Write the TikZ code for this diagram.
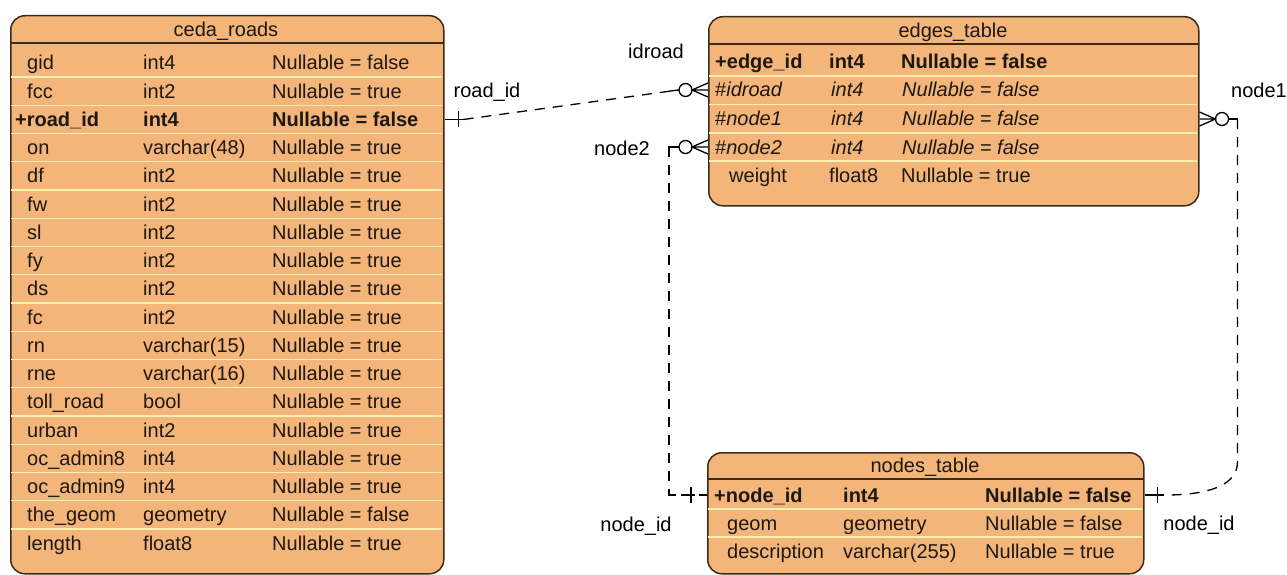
\documentclass[tikz,border=0pt]{standalone}
\usepackage{fontspec}
\setmainfont{Liberation Sans}
\usetikzlibrary{calc}
\definecolor{entfill}{HTML}{F3B579}
\definecolor{entline}{HTML}{3C2A18}
\definecolor{rowline}{HTML}{FFEFB0}
\definecolor{ink}{HTML}{1E1812}
\newcommand\cellfont{\fontsize{20}{24}\selectfont}

\begin{document}
\begin{tikzpicture}[x=1pt,y=-1pt,
  entity/.style={draw=entline, fill=entfill, line width=1.5pt, rounded corners=14pt,
                 anchor=north west, inner sep=0pt},
  cell/.style={inner sep=0pt, text height=14pt, text depth=0pt, anchor=west,
               font=\cellfont, text=ink},
  pl/.style={cell},
  pk/.style={cell, font=\cellfont\bfseries},
  fkc/.style={cell, font=\cellfont\itshape},
  title/.style={cell, anchor=center},
  lbl/.style={cell, anchor=center, text=black},
  sep/.style={draw=rowline, line width=1.3pt},
  hdr/.style={draw=entline, line width=1.5pt},
  rel/.style={draw=black, line width=1.3pt},
  fk/.style={rel, dash pattern=on 10pt off 8pt},
  crowl/.pic={\draw[rel] (0,0) -- (-16,0) (0,-7) -- (-16,0) -- (0,7);
              \draw[rel] (-22.5,0) circle (6.5);},
  crowr/.pic={\draw[rel] (0,0) -- (16,0) (0,-7) -- (16,0) -- (0,7);
              \draw[rel] (22.5,0) circle (6.5);}
]
\useasboundingbox (0,0) rectangle (1287,575);

% ---------------- ceda_roads ----------------
\node[entity, minimum width=433pt, minimum height=558pt] (ceda) at (10,15) {};
\foreach \i in {1,...,17}
  \draw[sep] (11,{63+(\i-0.5)*28.235}) -- (442,{63+(\i-0.5)*28.235});
\draw[hdr] (10,43) -- (443,43);
\node[title] (cedaT) at (226,30) {ceda\_roads};
\foreach \s/\x/\n/\t/\c [count=\i] in {
  pl/27/gid/int4/false,
  pl/27/fcc/int2/true,
  pk/15/+road\_id/int4/false,
  pl/27/on/varchar(48)/true,
  pl/27/df/int2/true,
  pl/27/fw/int2/true,
  pl/27/sl/int2/true,
  pl/27/fy/int2/true,
  pl/27/ds/int2/true,
  pl/27/fc/int2/true,
  pl/27/rn/varchar(15)/true,
  pl/27/rne/varchar(16)/true,
  pl/27/toll\_road/bool/true,
  pl/27/urban/int2/true,
  pl/27/oc\_admin8/int4/true,
  pl/27/oc\_admin9/int4/true,
  pl/27/the\_geom/geometry/false,
  pl/27/length/float8/true}
{
  \pgfmathsetmacro\yy{63+(\i-1)*28.235}
  \node[\s] (c\i-n) at (\x,\yy) {\n};
  \node[\s] (c\i-t) at (143,\yy) {\t};
  \node[\s] (c\i-c) at (272,\yy) {Nullable = \c};
}

% ---------------- edges_table ----------------
\node[entity, minimum width=490pt, minimum height=189pt] (edges) at (708,16) {};
\foreach \y in {76,104.5,133,161}
  \draw[sep] (709,\y) -- (1197,\y);
\draw[hdr] (708,44) -- (1198,44);
\node[title] (edgesT) at (953,31) {edges\_table};
\node[pk]  (e1-n) at (715,62)  {+edge\_id};
\node[pk]  (e1-t) at (829,62)  {int4};
\node[pk]  (e1-c) at (901,62)  {Nullable = false};
\node[pl]  (e2-n) at (715,90)  {\#\textit{idroad}};
\node[fkc] (e2-t) at (831,90)  {int4};
\node[fkc] (e2-c) at (902,90)  {Nullable = false};
\node[pl]  (e3-n) at (715,119) {\#\textit{node1}};
\node[fkc] (e3-t) at (831,119) {int4};
\node[fkc] (e3-c) at (902,119) {Nullable = false};
\node[pl]  (e4-n) at (715,147) {\#\textit{node2}};
\node[fkc] (e4-t) at (831,147) {int4};
\node[fkc] (e4-c) at (902,147) {Nullable = false};
\node[pl]  (e5-n) at (729,175) {weight};
\node[pl]  (e5-t) at (829,175) {float8};
\node[pl]  (e5-c) at (901,175) {Nullable = true};

% ---------------- nodes_table ----------------
\node[entity, minimum width=436pt, minimum height=121pt] (nodes) at (707,452) {};
\foreach \y in {509,537}
  \draw[sep] (708,\y) -- (1142,\y);
\draw[hdr] (707,479) -- (1143,479);
\node[title] (nodesT) at (925,465) {nodes\_table};
\node[pk] (d1-n) at (714,495) {+node\_id};
\node[pk] (d1-t) at (843,495) {int4};
\node[pk] (d1-c) at (985,495) {Nullable = false};
\node[pl] (d2-n) at (727,523) {geom};
\node[pl] (d2-t) at (843,523) {geometry};
\node[pl] (d2-c) at (985,523) {Nullable = false};
\node[pl] (d3-n) at (727,551) {description};
\node[pl] (d3-t) at (843,551) {varchar(255)};
\node[pl] (d3-c) at (985,551) {Nullable = true};

% ---------------- relationships ----------------
% ceda_roads.road_id -> edges_table.idroad
\coordinate (rA) at (ceda.east |- c3-n);
\coordinate (rB) at (edges.west |- e2-n);
\draw[rel] (rA) -- ($(rA)+(19,0)$);
\draw[rel] ($(rA)+(14,-8)$) -- ($(rA)+(14,8)$);
\draw[fk] ($(rA)+(19,0)$) -- ($(rB)+(-29.5,0)$);
\draw[rel] ($(rB)+(-29.5,0)$) -- ($(rB)+(-39,1.2)$);
\pic at (rB) {crowl};
\node[lbl] (lRoad) at (487,91) {road\_id};
\node[lbl] (lIdroad) at (656,52) {idroad};

% nodes_table.node_id -> edges_table.node2
\coordinate (n2A) at (edges.west |- e4-n);
\coordinate (n2B) at (nodes.west |- d1-n);
\coordinate (n2C) at ($(n2A)+(-39,0)$);
\pic at (n2A) {crowl};
\draw[rel] ($(n2A)+(-29,0)$) -- (n2C) -- ++(0,6);
\draw[fk] (n2C) -- (n2C |- n2B) -- (n2B);
\draw[rel] ($(n2C |- n2B)+(0,-6)$) -- (n2C |- n2B) -- ++(7,0);
\draw[rel] ($(n2B)+(-16,-8)$) -- ($(n2B)+(-16,8)$);
\draw[rel] ($(n2B)+(-21,0)$) -- ($(n2B)+(-12,0)$);
\node[lbl] (lNode2) at (622,148) {node2};
\node[lbl] (lNodeIdL) at (636,524) {node\_id};

% nodes_table.node_id -> edges_table.node1
\coordinate (n1A) at (edges.east |- e3-n);
\coordinate (n1B) at (nodes.east |- d1-n);
\coordinate (n1C) at ($(n1A)+(38,0)$);
\pic at (n1A) {crowr};
\draw[rel] ($(n1A)+(29,0)$) -- (n1C) -- ++(0,6);
\draw[fk] (n1C) -- ($(n1C)+(0,343)$)
  .. controls ($(n1C)+(0,372)$) and ($(n1B)+(48,0)$) .. ($(n1B)+(22,0)$);
\draw[rel] (n1B) -- ($(n1B)+(19,0)$);
\draw[rel] ($(n1B)+(13,-8)$) -- ($(n1B)+(13,8)$);
\node[lbl] (lNode1) at (1259,91) {node1};
\node[lbl] (lNodeIdR) at (1199,523) {node\_id};
\end{tikzpicture}
\end{document}
